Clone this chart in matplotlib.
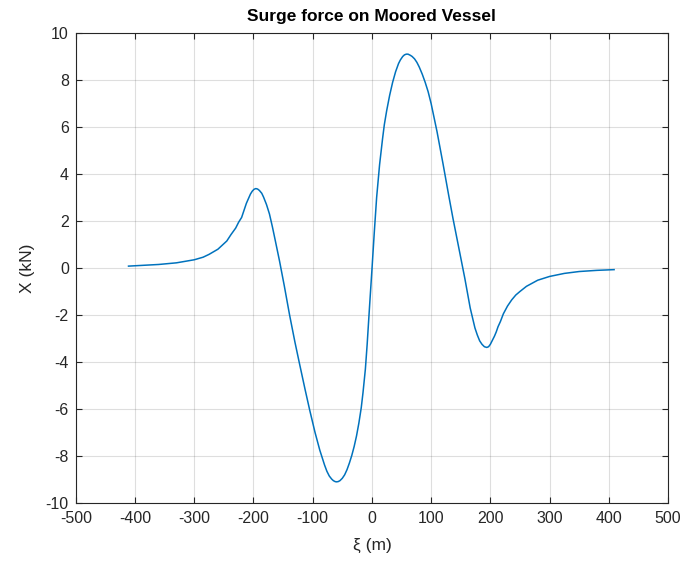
import matplotlib
matplotlib.use("Agg")
import matplotlib.pyplot as plt

plt.rcParams["font.family"] = ["Liberation Sans", "DejaVu Sans"]
plt.rcParams["axes.unicode_minus"] = False

# values
xi_m = [-411, -360, -330, -300, -285, -275, -260, -245, -238, -230, -225, -220,
        -216, -212, -208, -205, -202, -199, -196, -193, -190, -186, -183, -178,
        -173, -168, -163, -156, -148, -139, -130, -122, -113, -105, -96, -88,
        -80, -76, -72, -68, -65, -62, -60, -57, -54, -50, -46, -42, -38, -34,
        -30, -26, -22, -18, -15, -11, -8, -4, 0, 4, 8, 13, 18, 21, 25, 30, 35,
        40, 45, 48, 52, 55, 58, 61, 65, 68, 72, 76, 80, 85, 90, 95, 100, 110,
        120, 130, 137, 148, 157, 166, 174, 178, 182, 186, 190, 194, 197, 200,
        203, 207, 210, 213, 217, 222, 229, 236, 243, 250, 261, 280, 300, 325,
        350, 380, 409]
surge_kN = [0.08, 0.15, 0.22, 0.35, 0.46, 0.58, 0.80, 1.15, 1.42, 1.70, 1.95, 2.15,
            2.45, 2.75, 2.98, 3.15, 3.27, 3.35, 3.38, 3.36, 3.30, 3.18, 3.02, 2.70,
            2.30, 1.75, 1.15, 0.30, -0.75, -2.00, -3.15, -4.10, -5.15, -6.05, -7.00, -7.75,
            -8.38, -8.65, -8.85, -8.98, -9.05, -9.09, -9.10, -9.09, -9.05, -8.95, -8.80, -8.58, -8.30, -7.98,
            -7.60, -7.15, -6.60, -5.95, -5.30, -4.30, -3.25, -1.65, -0.10, 1.50, 3.00, 4.40, 5.50, 6.10, 6.70, 7.35, 7.90,
            8.35, 8.70, 8.85, 9.00, 9.07, 9.10, 9.10, 9.05, 9.00, 8.90, 8.75, 8.55, 8.25, 7.90, 7.50, 7.00, 5.80,
            4.45, 3.05, 2.10, 0.70, -0.45, -1.70, -2.55, -2.85, -3.10, -3.25, -3.35, -3.38, -3.35, -3.25,
            -3.10, -2.90, -2.72, -2.50, -2.28, -1.95, -1.62, -1.36, -1.15, -1.00, -0.78, -0.52, -0.36, -0.23,
            -0.15, -0.10, -0.07]

xticks = list(range(-500, 501, 100))
yticks = list(range(-10, 11, 2))

axis_grey = "#262626"

fig = plt.figure(figsize=(6.83, 5.69), dpi=100)
ax = fig.add_axes([0.111, 0.116, 0.867, 0.826])
ax.plot(xi_m, surge_kN, color="#0072BD", linewidth=1.1)

ax.set_xlim(-500, 500)
ax.set_ylim(-10, 10)
ax.set_xticks(xticks)
ax.set_yticks(yticks)
ax.grid(True, color="#262626", alpha=0.15, linewidth=0.8)
ax.tick_params(direction="in", top=True, right=True, length=4, width=0.8,
               colors=axis_grey, labelsize=11.5, labelcolor=axis_grey)
ax.tick_params(axis="x", pad=6)
ax.tick_params(axis="y", pad=5)
for s in ax.spines.values():
    s.set_color(axis_grey)
    s.set_linewidth(0.8)

ax.set_title("Surge force on Moored Vessel", fontsize=12.5, fontweight="bold",
             color="black", pad=9)
ax.set_xlabel("ξ (m)", fontsize=12.5, color=axis_grey, labelpad=8)
ax.set_ylabel("X (kN)", fontsize=12.5, color=axis_grey, labelpad=8)

fig.savefig("out.png", dpi=100)
plt.close(fig)
